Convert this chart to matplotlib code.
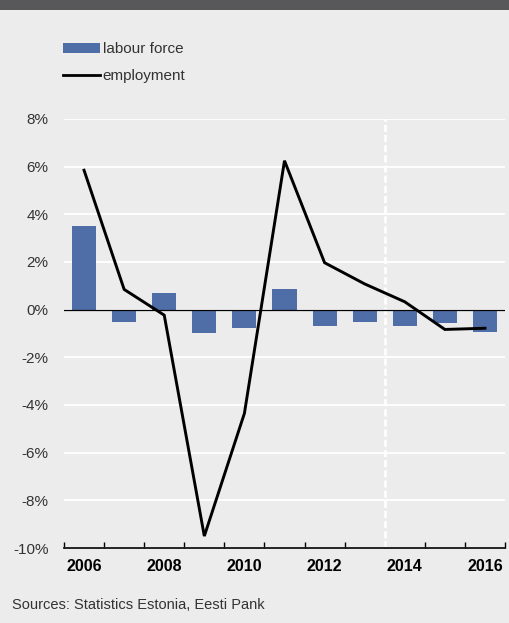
import matplotlib
matplotlib.use("Agg")
import matplotlib.pyplot as plt
from matplotlib.patches import Patch, Rectangle
from matplotlib.lines import Line2D
import numpy as np

plt.rcParams["font.family"] = ["Liberation Sans", "DejaVu Sans"]

years = [2006, 2007, 2008, 2009, 2010, 2011, 2012, 2013, 2014, 2015, 2016]
labour_force = [3.5, -0.5, 0.7, -1.0, -0.75, 0.85, -0.7, -0.5, -0.7, -0.57, -0.95]
employment = [5.85, 0.85, -0.23, -9.5, -4.35, 6.25, 1.97, 1.08, 0.33, -0.83, -0.78]
y_ticks = [-10, -8, -6, -4, -2, 0, 2, 4, 6, 8]
x_labels = ["2006", "2008", "2010", "2012", "2014", "2016"]

BG = "#ebeceb"
BAR = "#4f6ea7"

fig = plt.figure(figsize=(5.09, 6.23), dpi=100, facecolor=BG)
# dark header strip
fig.patches.append(Rectangle((0, 1 - 10 / 623), 1, 10 / 623, transform=fig.transFigure,
                             facecolor="#58585a", edgecolor="none", zorder=0))

ax = fig.add_axes([64 / 509, 1 - 548 / 623, 441 / 509, (548 - 119) / 623])
ax.set_facecolor(BG)

x = np.arange(len(years))
ax.bar(x, labour_force, width=0.6, color=BAR, zorder=3)
ax.plot(x, employment, color="black", lw=2.1, zorder=4, solid_joinstyle="miter")

ax.set_xlim(-0.5, len(years) - 0.5)
ax.set_ylim(-10, 8)

ax.set_yticks(y_ticks)
ax.set_yticklabels([f"{v}%" for v in y_ticks])
ax.yaxis.grid(True, color="white", lw=1.3, zorder=1)
ax.set_axisbelow(True)
ax.tick_params(axis="y", length=0, pad=11, labelsize=11, labelcolor="#333333")

ax.axhline(0, color="black", lw=0.9, zorder=3.5)
ax.axvline(7.5, color="white", lw=1.9, ls=(0, (2.7, 1.15)), zorder=2)

ax.set_xticks(np.arange(-0.5, len(years), 1.0))
ax.set_xticklabels([])
ax.tick_params(axis="x", direction="in", length=4, width=1, color="black")
label_pos = [years.index(int(s)) for s in x_labels]
ax.set_xticks(label_pos, minor=True)
ax.set_xticklabels(x_labels, minor=True, fontweight="bold", fontsize=11.5)
ax.tick_params(axis="x", which="minor", length=0, pad=8)

for s in ["top", "right", "left"]:
    ax.spines[s].set_visible(False)
ax.spines["bottom"].set_color("black")
ax.spines["bottom"].set_linewidth(1.2)

handles = [Patch(facecolor=BAR, edgecolor="none", label="labour force"),
           Line2D([], [], color="black", lw=2, label="employment")]
fig.legend(handles=handles, loc="upper left", bbox_to_anchor=(63 / 509, 1 - 42 / 623),
           frameon=False, fontsize=11, handlelength=2.4, handleheight=0.65,
           handletextpad=0.2, labelspacing=0.85, borderpad=0, borderaxespad=0,
           labelcolor="#333333")

fig.text(12 / 509, 1 - 605 / 623, "Sources: Statistics Estonia, Eesti Pank",
         fontsize=10.5, color="#333333", va="center", ha="left")

fig.savefig("out.png", dpi=100, facecolor=BG)
